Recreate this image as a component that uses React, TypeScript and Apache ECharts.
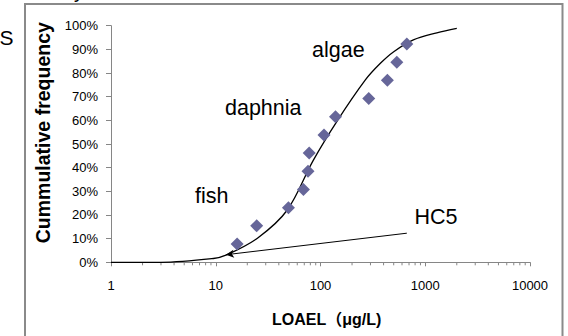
import React, { useEffect, useRef } from "react";
import * as echarts from "echarts";

// Species LOAEL values (µg/L) and their cumulative frequency (%)
const speciesLoael = [16, 24.6, 49.4, 68.7, 76, 78, 108, 139, 289, 435, 535, 667];
const speciesFreq = [7.7, 15.4, 23.1, 30.8, 38.5, 46.2, 53.8, 61.5, 69.2, 76.9, 84.6, 92.3];

// Fitted species sensitivity curve
const fitLoael = [1, 3, 9.5, 12.5, 25, 48, 85, 143, 267, 371, 500, 770, 1290, 2000];
const fitFreq = [0, 0, 1.6, 3, 10.2, 22, 43, 59.5, 77, 84, 89, 94, 97, 98.9];

// HC5 arrow: from label end to the curve
const hc5From = [667, 12.3];
const hc5To = [12.5, 3.2];

// Axis ticks
const xMajorTicks = [1, 10, 100, 1000, 10000];
const xMinorTicks = [
  2, 3, 4, 5, 6, 7, 8, 9,
  20, 30, 40, 50, 60, 70, 80, 90,
  200, 300, 400, 500, 600, 700, 800, 900,
  2000, 3000, 4000, 5000, 6000, 7000, 8000, 9000,
];
const yTickLabels = ["0%", "10%", "20%", "30%", "40%", "50%", "60%", "70%", "80%", "90%", "100%"];

const labels = [
  { text: "algae", x: 312, y: 50 },
  { text: "daphnia", x: 225, y: 107.5 },
  { text: "fish", x: 195, y: 196 },
  { text: "HC5", x: 414.5, y: 217 },
];

const FONT = '"Liberation Sans", Arial, sans-serif';
const AXIS_COLOR = "#868686";

export default function App() {
  const ref = useRef<HTMLDivElement>(null);
  useEffect(() => {
    if (!ref.current) return;
    const chart = echarts.init(ref.current, null, { renderer: "svg" });
    chart.setOption({
      animation: false,
      backgroundColor: "#ffffff",
      grid: { left: 111, right: 38, top: 25.7, bottom: 73.7, containLabel: false, outerBoundsMode: "none" },
      xAxis: {
        type: "log",
        logBase: 10,
        min: xMajorTicks[0],
        max: xMajorTicks[xMajorTicks.length - 1],
        axisLine: { show: true, lineStyle: { color: AXIS_COLOR, width: 1 } },
        axisTick: { show: true, inside: false, length: 4, lineStyle: { color: AXIS_COLOR } },
        axisLabel: {
          margin: 17,
          fontSize: 13,
          fontFamily: FONT,
          color: "#000",
          formatter: (v: number) => String(Math.round(v)),
        },
        splitLine: { show: false },
      },
      yAxis: {
        type: "value",
        min: 0,
        max: 100,
        interval: 10,
        axisLine: { show: true, lineStyle: { color: AXIS_COLOR, width: 1 } },
        axisTick: { show: true, inside: false, length: 5, lineStyle: { color: AXIS_COLOR } },
        axisLabel: {
          margin: 13,
          fontSize: 13,
          fontFamily: FONT,
          color: "#000",
          formatter: (v: number) => yTickLabels[Math.round(v / 10)] ?? "",
        },
        splitLine: { show: false },
      },
      graphic: [
        {
          type: "rect",
          shape: { x: 25, y: 4, width: 537.5, height: 345 },
          style: { fill: "none", stroke: "#8a8a8a", lineWidth: 2 },
          silent: true,
        },
        {
          type: "text",
          x: -0.5,
          y: 37.7,
          style: { text: "S", fontSize: 21, fontFamily: FONT, fill: "#000", align: "left", verticalAlign: "middle" },
        },
        {
          type: "text",
          x: 74,
          y: -9,
          style: { text: "y", fontSize: 20, fontFamily: FONT, fill: "#000", align: "left", verticalAlign: "middle" },
        },
        {
          type: "text",
          x: 42.5,
          y: 132.7,
          rotation: Math.PI / 2,
          style: {
            text: "Cummulative frequency",
            fontSize: 19.5,
            fontWeight: "bold",
            fontFamily: FONT,
            fill: "#000",
            align: "center",
            verticalAlign: "middle",
          },
        },
        {
          type: "text",
          x: 326.7,
          y: 319,
          style: {
            text: "LOAEL（μg/L)",
            fontSize: 16,
            fontWeight: "bold",
            fontFamily: '"Liberation Sans", "Noto Sans CJK JP", sans-serif',
            fill: "#000",
            align: "center",
            verticalAlign: "middle",
          },
        },
        ...labels.map((l) => ({
          type: "text",
          x: l.x,
          y: l.y,
          style: { text: l.text, fontSize: 21.5, fontFamily: FONT, fill: "#000", align: "left", verticalAlign: "middle" },
        })),
      ],
      series: [
        {
          type: "custom",
          silent: true,
          clip: false,
          z: 1,
          data: xMinorTicks.map((v) => [v, 0]),
          renderItem: (_params: any, api: any) => {
            const p = api.coord([api.value(0), 0]);
            return {
              type: "line",
              shape: { x1: p[0], y1: p[1], x2: p[0], y2: p[1] + 3 },
              style: { stroke: AXIS_COLOR, lineWidth: 1 },
            };
          },
        },
        {
          type: "line",
          data: fitLoael.map((x, i) => [x, fitFreq[i]]),
          symbol: "none",
          smooth: 0.35,
          z: 3,
          lineStyle: { color: "#000", width: 1.3 },
          markLine: {
            silent: true,
            symbol: ["none", "arrow"],
            symbolSize: [6, 8],
            label: { show: false },
            lineStyle: { color: "#000", width: 1, type: "solid" },
            data: [[{ coord: hc5From }, { coord: hc5To }]],
          },
        },
        {
          type: "scatter",
          data: speciesLoael.map((x, i) => [x, speciesFreq[i]]),
          symbol: "diamond",
          symbolSize: 13,
          z: 4,
          itemStyle: { color: "#666699", opacity: 1 },
        },
      ],
    });
    return () => chart.dispose();
  }, []);
  return <div ref={ref} style={{ position: "fixed", left: 0, top: 0, width: 568, height: 336 }} />;
}
